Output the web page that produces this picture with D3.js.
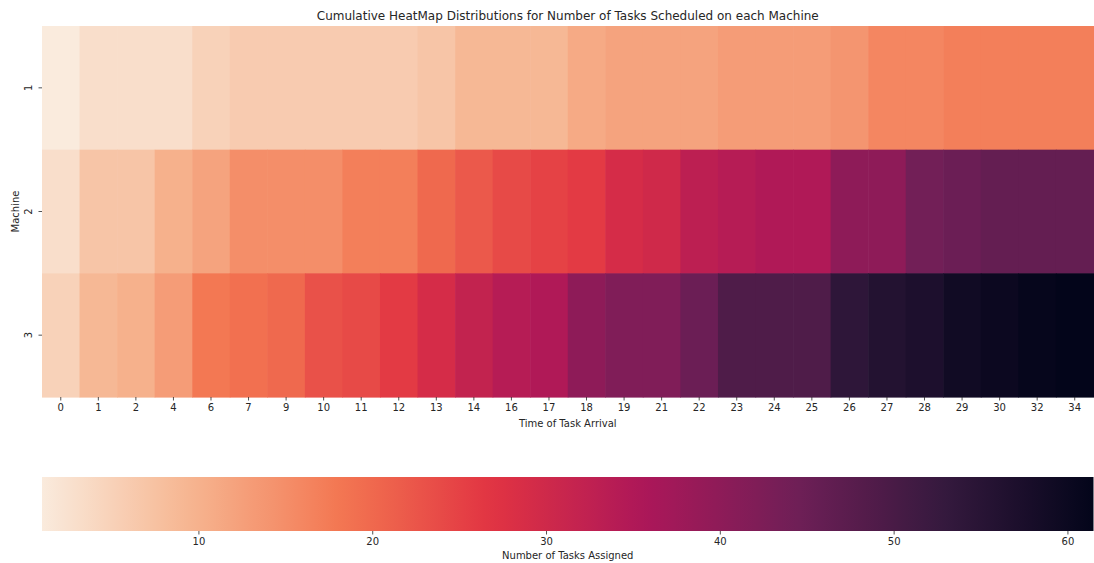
<!DOCTYPE html>
<html>
<head>
<meta charset="utf-8">
<script src="https://cdn.jsdelivr.net/npm/d3@7"></script>
<style>
  body { margin: 0; background: #fff; }
  text { font-family: "DejaVu Sans", sans-serif; fill: #262626; }
</style>
</head>
<body>
<div id="chart"></div>
<script>
// data
const times = [0,1,2,4,6,7,9,10,11,12,13,14,16,17,18,19,21,22,23,24,25,26,27,28,29,30,32,34];
const machines = ["1","2","3"];
const machine1 = [1,3,3,3,5,6,6,6,6,6,7,9,9,9,11,12,12,12,13,13,13,14,16,16,17,17,17,17];
const machine2 = [3,7,7,10,12,15,15,15,17,17,20,22,24,25,26,29,30,33,34,35,35,40,40,44,45,46,46,46];
const machine3 = [5,9,10,13,18,19,20,23,24,26,29,32,34,35,40,42,42,45,49,49,49,54,56,57,59,60,61,61.5];
const cbarTicks = [10,20,30,40,50,60];
// seaborn "rocket_r" anchor colours
const rocketR = ["#faebdd","#f6b48f","#f37651","#e13342","#ad1759","#701f57","#35193e","#03051a"];

const width = 1094, height = 563;
const hm = {left: 42, right: 1093.5, top: 26, bottom: 397};
const cb = {top: 477, bottom: 531};

const svg = d3.select("#chart").append("svg")
  .attr("width", width).attr("height", height);

const rows = [machine1, machine2, machine3];
const cells = [];
rows.forEach((r, i) => r.forEach((v, j) => cells.push({m: machines[i], t: String(times[j]), v})));

const x = d3.scaleBand().domain(times.map(String)).range([hm.left, hm.right]).padding(0);
const y = d3.scaleBand().domain(machines).range([hm.top, hm.bottom]).padding(0);

const ext = d3.extent(cells, d => d.v);
const color = d3.scaleSequential(d3.piecewise(d3.interpolateRgb, rocketR)).domain(ext);

// cells
svg.append("g").selectAll("rect")
  .data(cells)
  .join("rect")
    .attr("x", d => x(d.t))
    .attr("y", d => y(d.m))
    .attr("width", x.bandwidth() + 0.6)
    .attr("height", y.bandwidth() + 0.6)
    .attr("fill", d => color(d.v));

// axes
const xAxis = svg.append("g")
  .attr("transform", `translate(0,${hm.bottom})`)
  .call(d3.axisBottom(x).tickSize(3.5).tickPadding(3.5));
const yAxis = svg.append("g")
  .attr("transform", `translate(${hm.left},0)`)
  .call(d3.axisLeft(y).tickSize(3.5).tickPadding(3.5));

[xAxis, yAxis].forEach(a => {
  a.select(".domain").remove();
  a.selectAll("line").attr("stroke", "#262626").attr("stroke-width", 0.8);
  a.selectAll("text").style("font-size", "10px").attr("fill", "#262626");
});
yAxis.selectAll(".tick text")
  .attr("text-anchor", "middle")
  .attr("transform", "rotate(-90)")
  .attr("x", 0).attr("dx", null).attr("dy", null)
  .attr("y", -10);

svg.append("text")
  .attr("x", (hm.left + hm.right) / 2).attr("y", 427)
  .attr("text-anchor", "middle").style("font-size", "10px")
  .text("Time of Task Arrival");

svg.append("text")
  .attr("transform", `translate(19,${(hm.top + hm.bottom) / 2}) rotate(-90)`)
  .attr("text-anchor", "middle").style("font-size", "10px")
  .text("Machine");

svg.append("text")
  .attr("x", (hm.left + hm.right) / 2).attr("y", 20)
  .attr("text-anchor", "middle").style("font-size", "12px")
  .text("Cumulative HeatMap Distributions for Number of Tasks Scheduled on each Machine");

// colorbar
const cx = d3.scaleLinear().domain(ext).range([hm.left, hm.right]);
const grad = svg.append("defs").append("linearGradient").attr("id", "cbar");
d3.range(0, 1.0001, 0.02).forEach(f => {
  grad.append("stop")
    .attr("offset", f)
    .attr("stop-color", color(ext[0] + f * (ext[1] - ext[0])));
});
svg.append("rect")
  .attr("x", hm.left).attr("y", cb.top)
  .attr("width", hm.right - hm.left).attr("height", cb.bottom - cb.top)
  .attr("fill", "url(#cbar)");

const cAxis = svg.append("g")
  .attr("transform", `translate(0,${cb.bottom})`)
  .call(d3.axisBottom(cx).tickValues(cbarTicks).tickSize(3.5).tickPadding(3.5));
cAxis.select(".domain").remove();
cAxis.selectAll("line").attr("stroke", "#262626").attr("stroke-width", 0.8);
cAxis.selectAll("text").style("font-size", "10px").attr("fill", "#262626");

svg.append("text")
  .attr("x", (hm.left + hm.right) / 2).attr("y", 559)
  .attr("text-anchor", "middle").style("font-size", "10px")
  .text("Number of Tasks Assigned");
</script>
</body>
</html>
